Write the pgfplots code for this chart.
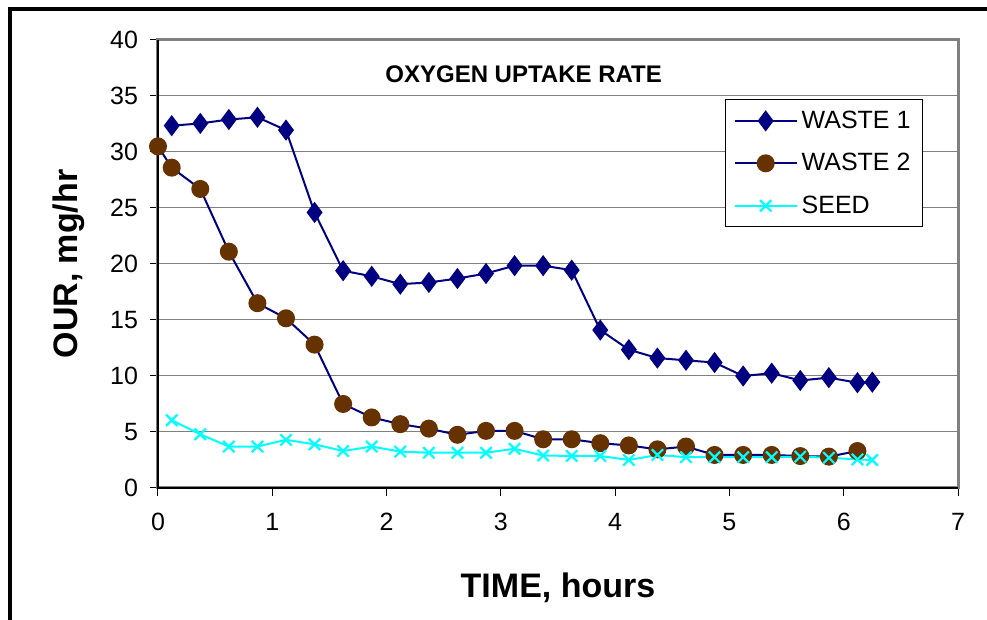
\documentclass[border=0pt]{standalone}
\usepackage{pgfplots}
\pgfplotsset{compat=1.18}
\usepackage{fontspec}
\setmainfont{Liberation Sans}
\definecolor{navyc}{RGB}{0,0,128}
\definecolor{brownc}{RGB}{102,51,0}
\definecolor{cyanc}{RGB}{0,255,255}
\definecolor{gridc}{RGB}{128,128,128}

\pgfplotstableread{
x y
0.12 32.35
0.37 32.55
0.62 32.9
0.87 33.1
1.12 31.95
1.37 24.6
1.62 19.4
1.87 18.9
2.12 18.2
2.37 18.35
2.62 18.7
2.87 19.15
3.12 19.85
3.37 19.85
3.62 19.45
3.87 14.1
4.12 12.35
4.37 11.6
4.62 11.4
4.87 11.2
5.12 10.0
5.37 10.25
5.62 9.6
5.87 9.85
6.12 9.4
6.25 9.45
}\wasteone

\pgfplotstableread{
x y
0 30.5
0.12 28.6
0.37 26.7
0.62 21.1
0.87 16.5
1.12 15.15
1.37 12.8
1.62 7.5
1.87 6.3
2.12 5.7
2.37 5.3
2.62 4.75
2.87 5.1
3.12 5.1
3.37 4.35
3.62 4.35
3.87 4.0
4.12 3.8
4.37 3.45
4.62 3.7
4.87 2.95
5.12 2.95
5.37 2.95
5.62 2.85
5.87 2.8
6.12 3.3
}\wastetwo

\pgfplotstableread{
x y
0.12 6.05
0.37 4.8
0.62 3.7
0.87 3.7
1.12 4.3
1.37 3.9
1.62 3.3
1.87 3.7
2.12 3.25
2.37 3.15
2.62 3.15
2.87 3.15
3.12 3.5
3.37 2.9
3.62 2.86
3.87 2.86
4.12 2.5
4.37 2.95
4.62 2.75
4.87 2.75
5.12 2.75
5.37 2.75
5.62 2.8
5.87 2.7
6.12 2.55
6.25 2.5
}\seed

\begin{document}
\begin{tikzpicture}[x=1pt,y=1pt]
\useasboundingbox (0,0) rectangle (493.5,310);
\draw[line width=2pt] (5,0) -- (5,305.25) -- (493.5,305.25);
\begin{axis}[
  at={(79pt,66pt)}, anchor=south west,
  scale only axis, width=400pt, height=224pt,
  xmin=0, xmax=7, ymin=0, ymax=40,
  xtick={0,1,...,7}, ytick={0,5,...,40},
  ymajorgrids,
  major grid style={draw=gridc, line width=0.5pt},
  axis line style={draw=gridc, line width=1.5pt},
  tick align=outside, major tick length=4pt,
  every tick/.style={draw=black, line width=0.5pt},
  xtick pos=bottom, ytick pos=left,
  /pgf/number format/assume math mode=true,
  tick label style={font=\fontsize{12.5}{15}\selectfont},
  xticklabel style={yshift=-5pt},
  yticklabel style={xshift=-2.5pt},
  xlabel={TIME, hours}, ylabel={OUR, mg/hr},
  label style={font=\fontsize{17}{20}\selectfont\bfseries},
  xlabel style={at={(axis description cs:0.5,-0.2455)}, anchor=base},
  ylabel style={at={(axis description cs:-0.1,0.5)}, anchor=base},
  clip=false,
  legend style={at={(0.709,0.868)}, anchor=north west, draw=black, line width=0.5pt,
    font=\fontsize{12.5}{14}\selectfont, inner xsep=4pt, inner ysep=3.5pt, row sep=7pt},
  legend cell align=left,
  legend image code/.code={\draw[mark repeat=2,mark phase=2,#1] plot coordinates {(0pt,0pt) (15.5pt,0pt) (31pt,0pt)};},
]
\draw[black, line width=0.6pt] (rel axis cs:0,1) -- (rel axis cs:0,0) -- (rel axis cs:1,0);
\addplot[navyc, line width=1pt, mark=diamond*, mark size=4.5pt, mark options={fill=navyc, draw=navyc}] table {\wasteone};
\addlegendentry{WASTE 1}
\addplot[navyc, line width=1pt, mark=*, mark size=4pt, mark options={fill=brownc, draw=brownc}] table {\wastetwo};
\addlegendentry{WASTE 2}
\addplot[cyanc, line width=1pt, mark=x, mark size=4pt, mark options={draw=cyanc, line width=1.1pt}] table {\seed};
\addlegendentry{SEED}
\end{axis}
\node[anchor=west, font=\fontsize{12}{14}\selectfont\bfseries, inner sep=0pt] at (192.5,273) {OXYGEN UPTAKE RATE};
\end{tikzpicture}
\end{document}
